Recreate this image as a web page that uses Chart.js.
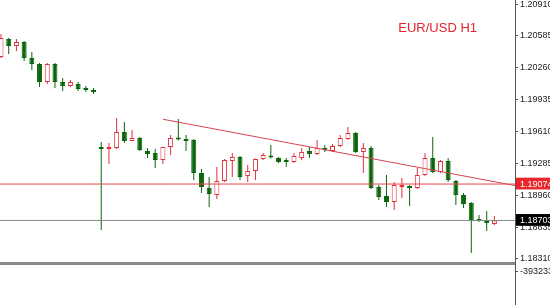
<!DOCTYPE html>
<html>
<head>
<meta charset="utf-8">
<title>EUR/USD H1</title>
<script src="https://cdn.jsdelivr.net/npm/chart.js@4.4.1/dist/chart.umd.min.js"></script>
<style>
  html, body { margin: 0; padding: 0; background: #fff; }
</style>
</head>
<body>
<canvas id="chart" width="550" height="305"></canvas>
<script>
// EUR/USD H1 candles, oldest first
var opens = [
  1.20370, 1.20553, 1.20482, 1.20523, 1.20359, 1.20298, 1.20115, 1.20298, 1.20115, 1.20074,
  1.20094, 1.20054, 1.20033, 1.19452, 1.19432, 1.19442, 1.19605, 1.19513, 1.19544, 1.19411,
  1.19391, 1.19319, 1.19452, 1.19544, 1.19534, 1.19523, 1.19187, 1.19034, 1.18963, 1.19105,
  1.19309, 1.19350, 1.19156, 1.19207, 1.19330, 1.19360, 1.19340, 1.19304, 1.19299, 1.19340,
  1.19411, 1.19381, 1.19432, 1.19411, 1.19462, 1.19534, 1.19595, 1.19401, 1.19442, 1.19044,
  1.18952, 1.18891, 1.19044, 1.19054, 1.19034, 1.19167, 1.19340, 1.19197, 1.19309, 1.19105,
  1.18963, 1.18881, 1.18708, 1.18698, 1.18667
];
var highs = [
  1.20604, 1.20563, 1.20553, 1.20533, 1.20421, 1.20308, 1.20308, 1.20308, 1.20156, 1.20135,
  1.20115, 1.20074, 1.20054, 1.19503, 1.19493, 1.19748, 1.19707, 1.19625, 1.19554, 1.19442,
  1.19432, 1.19452, 1.19574, 1.19737, 1.19574, 1.19534, 1.19228, 1.19146, 1.19248, 1.19330,
  1.19391, 1.19360, 1.19268, 1.19335, 1.19391, 1.19472, 1.19350, 1.19340, 1.19391, 1.19442,
  1.19452, 1.19523, 1.19472, 1.19483, 1.19574, 1.19656, 1.19605, 1.19493, 1.19462, 1.19065,
  1.19167, 1.19095, 1.19136, 1.19065, 1.19238, 1.19391, 1.19554, 1.19319, 1.19340, 1.19116,
  1.18983, 1.18891, 1.18759, 1.18799, 1.18748
];
var lows = [
  1.20359, 1.20400, 1.20431, 1.20329, 1.20237, 1.20064, 1.20094, 1.20054, 1.20023, 1.20064,
  1.20023, 1.20013, 1.19992, 1.18606, 1.19279, 1.19432, 1.19493, 1.19513, 1.19411, 1.19340,
  1.19238, 1.19279, 1.19370, 1.19518, 1.19411, 1.19116, 1.18983, 1.18840, 1.18922, 1.19095,
  1.19146, 1.19116, 1.19095, 1.19116, 1.19319, 1.19335, 1.19289, 1.19248, 1.19289, 1.19319,
  1.19340, 1.19370, 1.19401, 1.19401, 1.19452, 1.19523, 1.19391, 1.19187, 1.19024, 1.18912,
  1.18840, 1.18810, 1.18932, 1.18850, 1.19024, 1.19156, 1.19187, 1.19187, 1.19095, 1.18861,
  1.18830, 1.18371, 1.18687, 1.18596, 1.18657
];
var closes = [
  1.20563, 1.20482, 1.20523, 1.20359, 1.20298, 1.20115, 1.20298, 1.20115, 1.20074, 1.20115,
  1.20043, 1.20033, 1.20013, 1.19432, 1.19442, 1.19605, 1.19513, 1.19544, 1.19421, 1.19381,
  1.19319, 1.19452, 1.19544, 1.19528, 1.19513, 1.19187, 1.19044, 1.18973, 1.19105, 1.19319,
  1.19350, 1.19146, 1.19207, 1.19330, 1.19370, 1.19345, 1.19299, 1.19299, 1.19360, 1.19401,
  1.19381, 1.19442, 1.19421, 1.19462, 1.19544, 1.19595, 1.19401, 1.19442, 1.19034, 1.18942,
  1.18891, 1.19065, 1.19054, 1.19034, 1.19167, 1.19340, 1.19197, 1.19309, 1.19116, 1.18963,
  1.18871, 1.18698, 1.18698, 1.18677, 1.18703
];

// price scale labels
var priceTicks = [1.20910, 1.20585, 1.20260, 1.19935, 1.19610, 1.19285, 1.18960, 1.18635, 1.18310];
var levelPrice = 1.19074;   // red horizontal level
var bidPrice = 1.18703;     // current price line
var trendStart = { x: 21, y: 1.19735 };
var trendEnd = { x: 66.7, y: 1.19058 };
var indicatorTick = -393233; // top label of the empty sub window
var chartTitle = 'EUR/USD H1';

var GREEN = '#0b650b';
var RED = '#e0303c';
var AXIS = '#555555';
var TICKFONT = { family: 'Liberation Sans', size: 9 };

var isBull = closes.map(function(c, i){ return c >= opens[i]; });
var bodies = opens.map(function(o, i){ return { x: i, y: [o, closes[i]] }; });
var wicks = lows.map(function(l, i){ return { x: i, y: [l, highs[i]] }; });
var specialTicks = [levelPrice, bidPrice];

var titlePlugin = {
  id: 'symbolTitle',
  afterDraw: function(chart){
    var c = chart.ctx;
    c.save();
    c.font = '13px "Liberation Sans"';
    c.fillStyle = '#e0242c';
    c.textAlign = 'right';
    c.textBaseline = 'alphabetic';
    c.fillText(chartTitle, chart.chartArea.right - 38, 32);
    c.restore();
  }
};

function fixWidth(scale){
  scale.width = 35;
  scale.paddingTop = 0;
  scale.paddingBottom = 0;
}

new Chart(document.getElementById('chart'), {
  type: 'bar',
  data: {
    datasets: [
      { type: 'line', data: [{ x: -1, y: levelPrice }, { x: 70, y: levelPrice }],
        borderColor: '#e8474d', borderWidth: 1, pointRadius: 0, yAxisID: 'y' },
      { type: 'line', data: [{ x: -1, y: bidPrice }, { x: 70, y: bidPrice }],
        borderColor: '#7f8a80', borderWidth: 1, pointRadius: 0, yAxisID: 'y' },
      { type: 'line', data: [trendStart, trendEnd],
        borderColor: '#d9434f', borderWidth: 1, pointRadius: 0, yAxisID: 'y' },
      {
        label: 'body', data: bodies, yAxisID: 'y',
        backgroundColor: function(ctx){ return isBull[ctx.dataIndex] ? '#ffffff' : GREEN; },
        borderColor: function(ctx){ return isBull[ctx.dataIndex] ? RED : GREEN; },
        borderWidth: 1, borderSkipped: false, barThickness: 5, minBarLength: 2,
        grouped: false, inflateAmount: 0
      },
      {
        label: 'wick', data: wicks, yAxisID: 'y',
        backgroundColor: function(ctx){ return isBull[ctx.dataIndex] ? RED : GREEN; },
        borderWidth: 0, barThickness: 1, grouped: false, inflateAmount: 0
      }
    ]
  },
  options: {
    responsive: false,
    animation: false,
    events: [],
    layout: { padding: 0 },
    plugins: { legend: { display: false }, tooltip: { enabled: false } },
    scales: {
      x: { type: 'linear', display: false, offset: false, min: -0.13, max: 66.67 },
      y: {
        position: 'right', stack: 'pane', stackWeight: 263,
        min: 1.18269, max: 1.20951,
        afterBuildTicks: function(scale){
          scale.ticks = priceTicks.concat(specialTicks).map(function(v){ return { value: v }; });
        },
        afterFit: fixWidth,
        border: { color: AXIS },
        grid: {
          drawOnChartArea: false, tickLength: 3,
          tickColor: function(ctx){ return ctx.index >= priceTicks.length ? 'transparent' : AXIS; }
        },
        ticks: {
          autoSkip: false, padding: 2, font: TICKFONT,
          color: function(ctx){ return ctx.index >= priceTicks.length ? '#ffffff' : '#222222'; },
          showLabelBackdrop: function(ctx){ return ctx.index >= priceTicks.length; },
          backdropColor: function(ctx){ return ctx.index === priceTicks.length ? '#e8262c' : '#000000'; },
          backdropPadding: { top: 1, bottom: 0, left: 4, right: 12 },
          callback: function(v){ return v.toFixed(5); }
        }
      },
      y2: {
        position: 'right', stack: 'pane', stackWeight: 42,
        min: -557000, max: -350000,
        afterBuildTicks: function(scale){
          scale.ticks = [{ value: -350000 }, { value: indicatorTick }];
        },
        afterFit: fixWidth,
        border: { color: AXIS },
        grid: {
          color: function(ctx){ return ctx.index === 0 ? '#8a8a8a' : 'transparent'; },
          lineWidth: function(ctx){ return ctx.index === 0 ? 3 : 1; },
          tickLength: 3,
          tickColor: function(ctx){ return ctx.index === 0 ? 'transparent' : AXIS; }
        },
        ticks: {
          autoSkip: false, padding: 2, font: TICKFONT, color: '#222222',
          callback: function(v){ return v === indicatorTick ? String(v) : ''; }
        }
      }
    }
  },
  plugins: [titlePlugin]
});
</script>
</body>
</html>
